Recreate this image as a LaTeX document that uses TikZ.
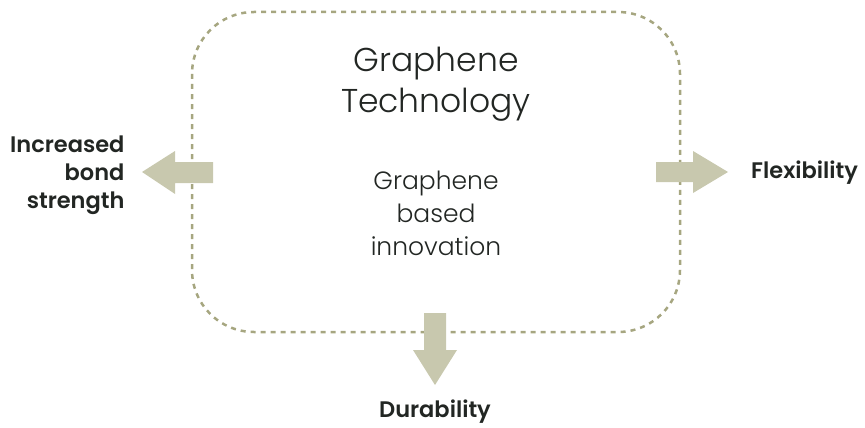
\documentclass[tikz,border=0pt]{standalone}
\usepackage{fontspec}
\setmainfont{Poppins}[UprightFont=* Light, BoldFont=* SemiBold]
\definecolor{boxline}{RGB}{166,166,128}
\definecolor{arrowfill}{RGB}{200,200,174}
\definecolor{ink}{RGB}{34,38,35}
\tikzset{
  outline/.style={draw=boxline, line width=2.5pt, dash pattern=on 5pt off 5pt, rounded corners=62pt},
  blockarrow/.style={fill=arrowfill, draw=none},
  title/.style={text=ink, align=center, font=\fontsize{33}{40}\selectfont},
  inner/.style={text=ink, align=center, font=\fontsize{25}{33}\selectfont},
  effect/.style={text=ink, font=\bfseries\fontsize{22.5}{28}\selectfont}
}
\begin{document}
\begin{tikzpicture}[x=1pt, y=-1pt]
  \useasboundingbox (0,0) rectangle (865,428);
  % frame round the technology
  \draw[outline] (192,12) rectangle (680,332);
  \node[title, anchor=base] (tech) at (436,112) {Graphene\\Technology};
  \node[inner, anchor=base] (innov) at (436,255) {Graphene\\based\\innovation};

  % arrows out of the frame
  \coordinate (lroot) at (213,172);
  \coordinate (rroot) at (656,172);
  \coordinate (droot) at (435,313);
  \fill[blockarrow] (lroot) ++(0,-10) -- ++(-38,0) -- ++(0,-11) -- (142,172)
    -- (175,194) -- ++(0,-11) -- ++(38,0) -- cycle;
  \fill[blockarrow] (rroot) ++(0,-10) -- ++(37,0) -- ++(0,-11) -- (728,172)
    -- (693,193) -- ++(0,-11) -- ++(-37,0) -- cycle;
  \fill[blockarrow] (droot) ++(-11,0) -- ++(0,37) -- ++(-11,0) -- (435,385)
    -- (457,350) -- ++(-11,0) -- ++(0,-37) -- cycle;

  \node[effect, align=right, anchor=base east] (bond) at (128,208) {Increased\\bond\\strength};
  \node[effect, anchor=base west, inner sep=0pt] (flex) at (751,178) {Flexibility};
  \node[effect, anchor=base, inner sep=0pt] (dura) at (435,417) {Durability};
\end{tikzpicture}
\end{document}
